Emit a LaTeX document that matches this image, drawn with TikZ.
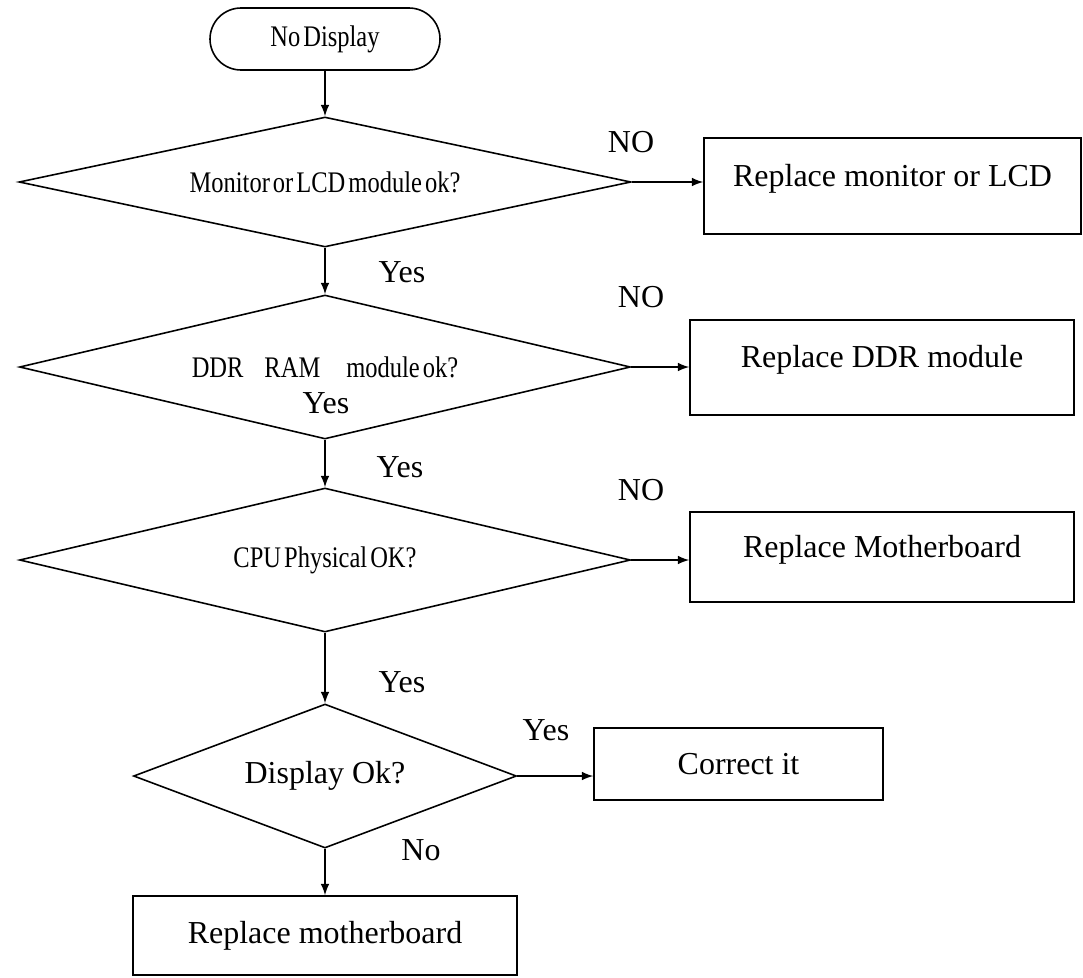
\documentclass[tikz,border=0pt]{standalone}
\usepackage{fontspec}
\usepackage{tikz}
\usetikzlibrary{shapes,arrows,positioning}
\setmainfont{Liberation Serif}
\newfontfamily\narrowfont{Liberation Serif}[FakeStretch=0.82, WordSpace=0.5]
\newcommand{\boxsize}{\fontsize{18.2}{22}\selectfont}
\newcommand{\narrowsize}{\fontsize{17}{20}\narrowfont}

\begin{document}
\begin{tikzpicture}[
    terminal/.style={rectangle, draw, line width=0.9pt, rounded corners=0.62cm,
                     minimum width=4.6cm, minimum height=1.24cm, font=\narrowsize},
    decision/.style={diamond, draw, line width=0.9pt, aspect=4, inner sep=0pt,
                     minimum width=12.22cm, minimum height=2.88cm, font=\narrowsize},
    action/.style={rectangle, draw, line width=0.9pt, minimum width=7.68cm,
                   text height=0.75em, text depth=0.75em, font=\boxsize},
    result/.style={rectangle, draw, line width=0.9pt, font=\boxsize},
    answer/.style={font=\boxsize, inner sep=0pt},
    flow/.style={-latex, line width=1.2pt}
]
\useasboundingbox (0,0) rectangle (21.66,-19.54);

% Start
\node[terminal] (start) at (6.5, -0.78) {No Display};

% Checks
\node[decision, minimum width=12.24cm, minimum height=2.6cm] (monitor) at (6.5, -3.64) {Monitor or LCD module ok?};
\node[decision] (ddr) at (6.5, -7.34) {DDR\hspace{0.42cm}RAM\hspace{0.52cm}module ok?};
\node[decision] (cpu) at (6.5, -11.2) {CPU Physical OK?};
\node[decision, aspect=2.6, minimum width=7.66cm, font=\boxsize] (display) at (6.5, -15.52) {Display Ok?};

% Fixes
\node[action, minimum width=7.54cm, minimum height=1.92cm] (lcd) at (17.85, -3.72) {Replace monitor or LCD};
\node[action, minimum height=1.9cm] (ram) at (17.64, -7.35) {Replace DDR module};
\node[action, minimum height=1.8cm] (board) at (17.64, -11.14) {Replace Motherboard};
\node[result, minimum width=5.78cm, minimum height=1.44cm] (fixed) at (14.77, -15.28) {Correct it};
\node[result, minimum width=7.68cm, minimum height=1.58cm] (mainboard) at (6.5, -18.71) {Replace motherboard};

% Connections
\draw[flow] (start) -- (monitor);
\draw[flow] (monitor) -- (ddr);
\draw[flow] (ddr) -- (cpu);
\draw[flow] (cpu) -- (display);
\draw[flow] (display) -- (mainboard);
\draw[flow] (monitor.east) -- (monitor.east -| lcd.west);
\draw[flow] (ddr.east) -- (ddr.east -| ram.west);
\draw[flow] (cpu.east) -- (cpu.east -| board.west);
\draw[flow] (display.east) -- (display.east -| fixed.west);

% Answers
\node[answer] (no1) at (12.62, -2.84) {NO};
\node[answer] (yes1) at (8.04, -5.44) {Yes};
\node[answer] (no2) at (12.82, -5.94) {NO};
\node[answer] (yesin) at (6.52, -8.06) {Yes};
\node[answer] (yes2) at (8.0, -9.34) {Yes};
\node[answer] (no3) at (12.82, -9.8) {NO};
\node[answer] (yes3) at (8.04, -13.64) {Yes};
\node[answer] (yes4) at (10.92, -14.6) {Yes};
\node[answer] (no4) at (8.42, -17.0) {No};

\end{tikzpicture}
\end{document}
